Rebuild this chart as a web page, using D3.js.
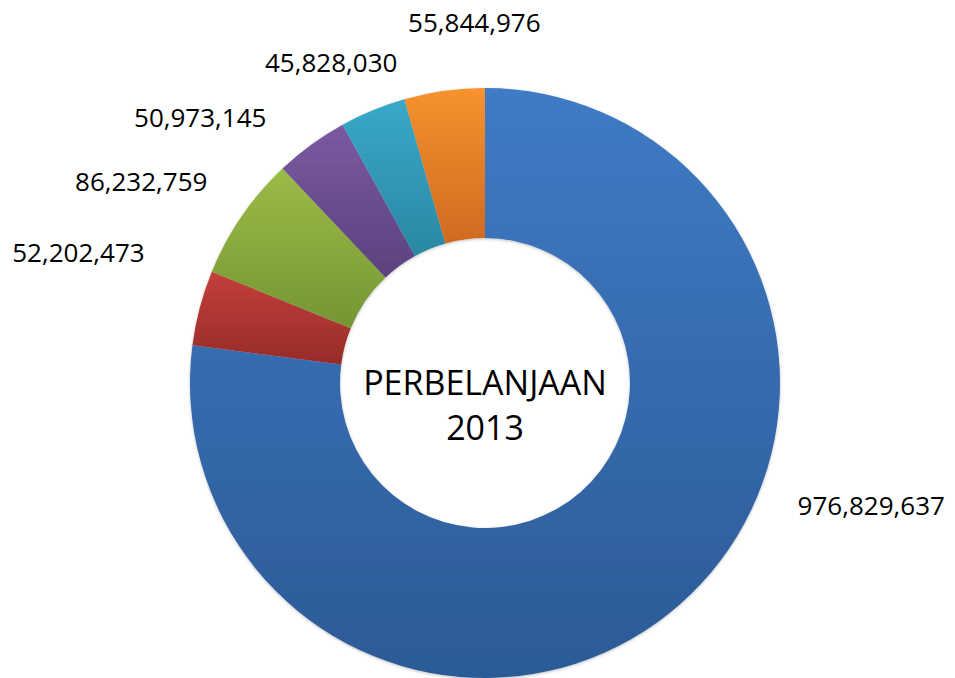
<!DOCTYPE html>
<html>
<head>
<meta charset="utf-8">
<script src="https://cdn.jsdelivr.net/npm/d3@7/dist/d3.min.js"></script>
<style>
  html, body { margin: 0; padding: 0; background: #ffffff; }
  svg { display: block; }
</style>
</head>
<body>
<svg id="chart" width="955" height="678"></svg>
<script>
// ---- data ----
const categories = ["A", "B", "C", "D", "E", "F"];
const values = [976829637, 52202473, 86232759, 50973145, 45828030, 55844976];
const topColors = ["#3f7bc5", "#c4403b", "#9bbc46", "#7b5aa1", "#38a9c9", "#f7922f"];
const bottomColors = ["#2c5a96", "#962b28", "#759535", "#5a417d", "#2a87a2", "#cf6a1f"];
const centerLines = ["PERBELANJAAN", "2013"];
// label placement (polar, degrees clockwise from 12 o'clock, px from centre)
const labelAngles = [107.5, 287.8, 300.5, 313.1, 334.4, 358.3];
const labelRadii = [405, 427, 399, 390, 356, 361];

// ---- layout ----
const W = 955, H = 678;
const cx = 485, cy = 383;
const outerR = 295, innerR = 145;

const svg = d3.select("#chart");
const defs = svg.append("defs");

const shadow = defs.append("filter").attr("id", "soft")
  .attr("x", "-10%").attr("y", "-10%").attr("width", "120%").attr("height", "120%");
shadow.append("feDropShadow").attr("dx", 0).attr("dy", 1).attr("stdDeviation", 1.5)
  .attr("flood-color", "#000").attr("flood-opacity", 0.25);

categories.forEach((c, i) => {
  const g = defs.append("linearGradient").attr("id", "grad" + i)
    .attr("x1", 0).attr("y1", 0).attr("x2", 0).attr("y2", 1);
  g.append("stop").attr("offset", "0%").attr("stop-color", topColors[i]);
  g.append("stop").attr("offset", "100%").attr("stop-color", bottomColors[i]);
});

const pie = d3.pie().sort(null).value(d => d.value);
const data = categories.map((c, i) => ({ cat: c, value: values[i], idx: i }));
const arcs = pie(data);
const arc = d3.arc().innerRadius(innerR).outerRadius(outerR);

const g = svg.append("g").attr("transform", `translate(${cx},${cy})`);
g.append("g").attr("filter", "url(#soft)")
  .selectAll("path").data(arcs).join("path")
  .attr("d", arc)
  .attr("fill", d => `url(#grad${d.data.idx})`);

// labels
const fmt = d3.format(",");
g.selectAll("text.lbl").data(arcs).join("text")
  .attr("class", "lbl")
  .attr("x", d => labelRadii[d.data.idx] * Math.sin(labelAngles[d.data.idx] * Math.PI / 180))
  .attr("y", d => -labelRadii[d.data.idx] * Math.cos(labelAngles[d.data.idx] * Math.PI / 180))
  .attr("text-anchor", "middle")
  .attr("dominant-baseline", "central")
  .attr("font-family", "'Open Sans', sans-serif")
  .attr("font-size", 26)
  .attr("fill", "#000")
  .text(d => fmt(d.data.value));

// centre text (two separate lines)
g.selectAll("text.ctr").data(centerLines).join("text")
  .attr("class", "ctr")
  .attr("text-anchor", "middle")
  .attr("font-family", "'Open Sans', sans-serif")
  .attr("font-size", 34)
  .attr("fill", "#000")
  .attr("x", 0)
  .attr("y", (d, i) => 12 + i * 45)
  .text(d => d);
</script>
</body>
</html>
